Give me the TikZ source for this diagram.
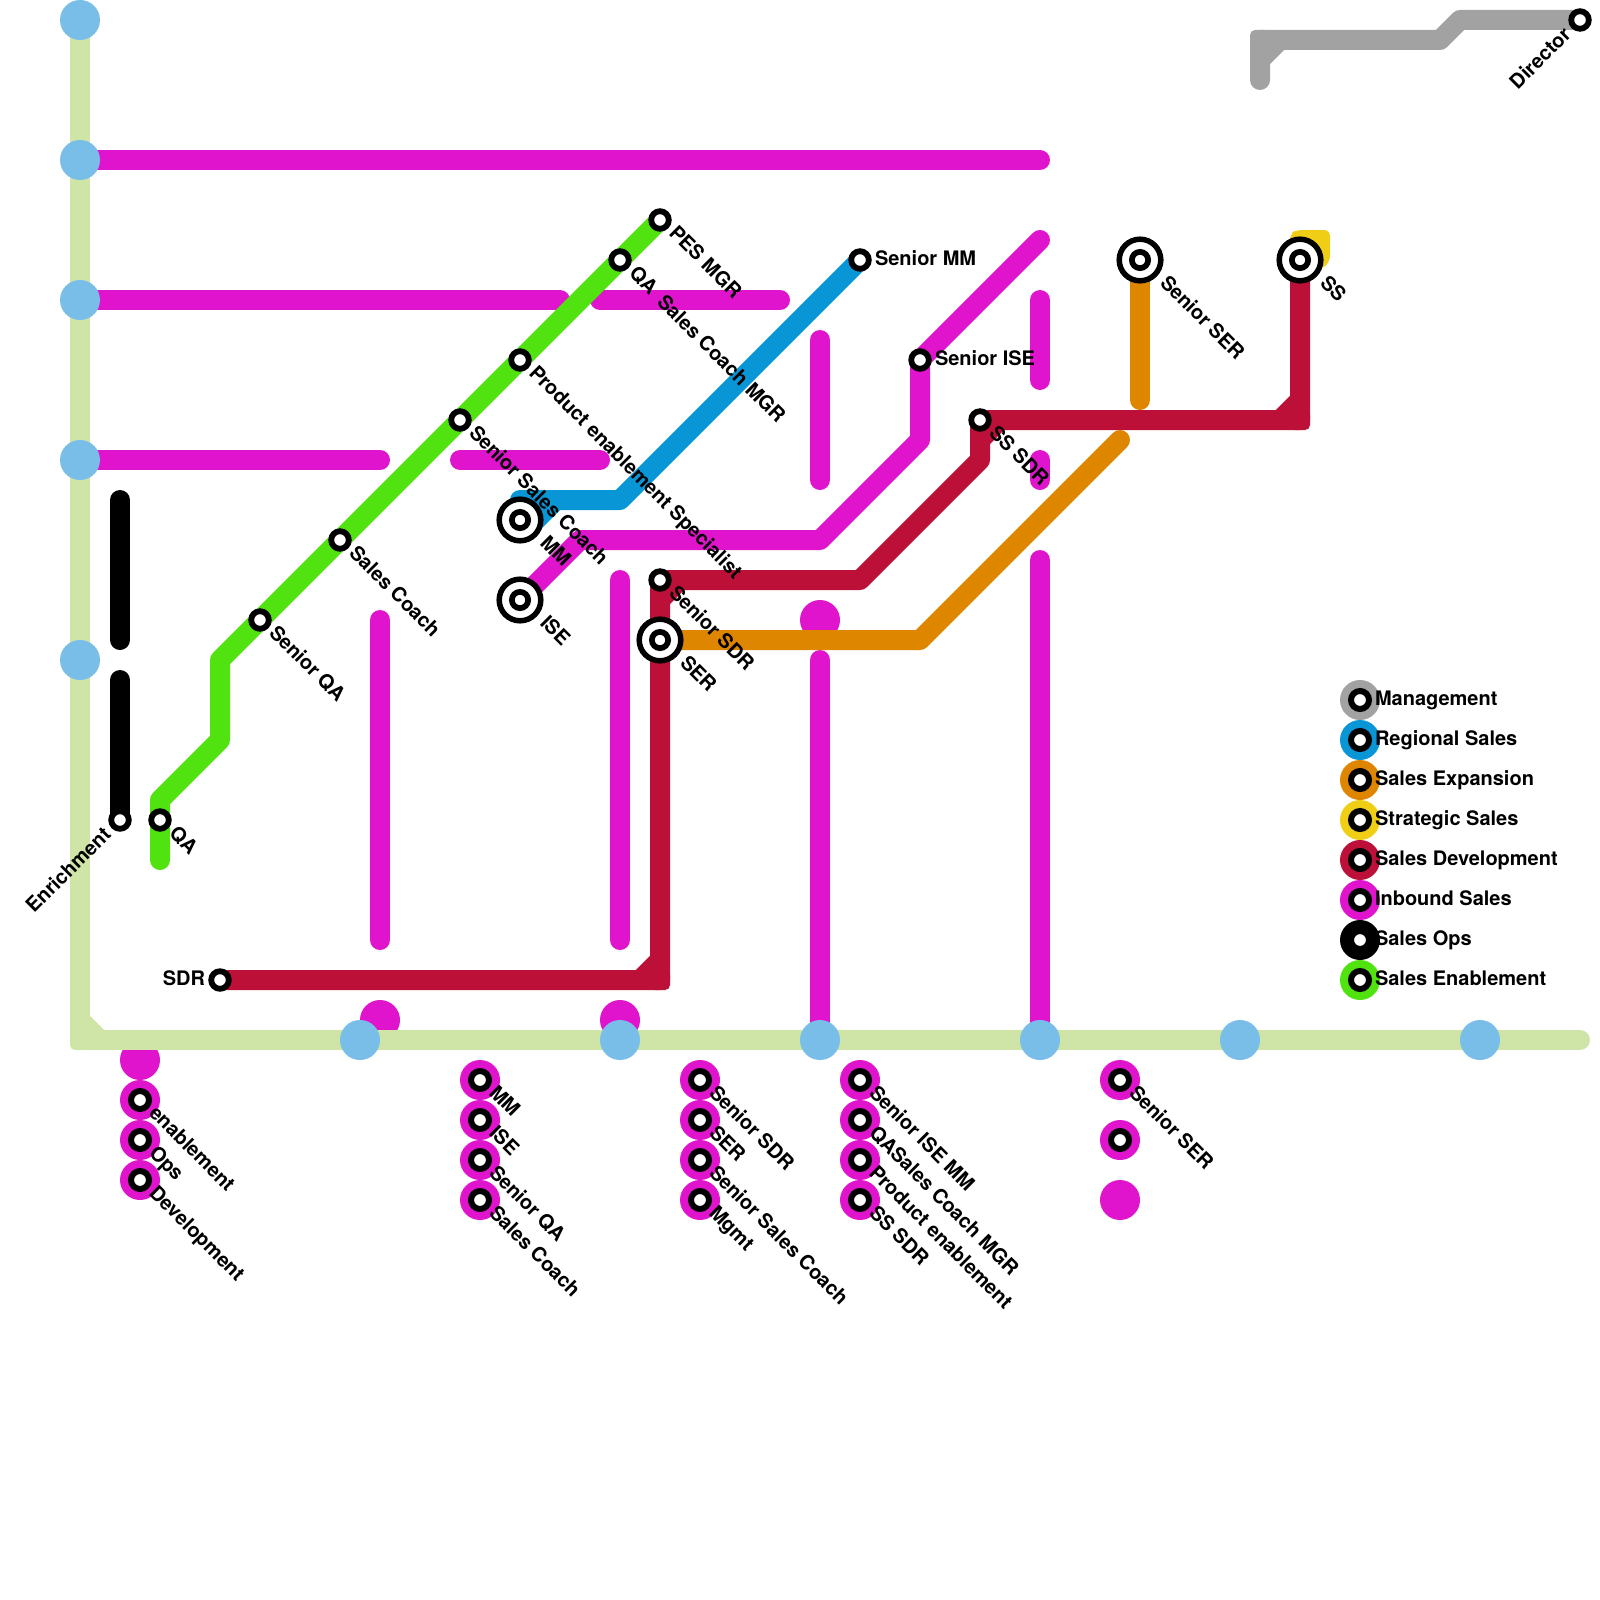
\documentclass[tikz,border=0pt]{standalone}
\usepackage{fontspec}
\setmainfont{TeX Gyre Heros}
\definecolor{cMag}{HTML}{E014CC}
\definecolor{cRed}{HTML}{BD1038}
\definecolor{cOra}{HTML}{DF8600}
\definecolor{cYel}{HTML}{F0CE15}
\definecolor{cBlu}{HTML}{0896D7}
\definecolor{cGra}{HTML}{A2A2A2}
\definecolor{cSky}{HTML}{79BDE9}
\definecolor{cLim}{HTML}{CFE4A7}
\definecolor{cGrn}{HTML}{50E30F}
\pgfdeclarelayer{lines}
\pgfsetlayers{lines,main}
\tikzset{
  x=1pt,y=-1pt,
  metro/.style={line width=20pt,line cap=round,line join=round},
  stn/.style={circle,draw=black,fill=white,line width=5.8pt,minimum size=17.6pt,inner sep=0pt,outer sep=0pt},
  stnkey/.style={circle,draw=black,fill=white,line width=6pt,minimum size=18pt,inner sep=0pt,outer sep=0pt},
  stnin/.style={circle,draw=black,fill=white,line width=5.7pt,minimum size=16.3pt,inner sep=0pt,outer sep=0pt},
  ring/.style={circle,draw=black,fill=white,line width=5.5pt,minimum size=41.6pt,inner sep=0pt,outer sep=0pt},
  hub/.style={circle,fill=cSky,minimum size=40pt,inner sep=0pt,outer sep=0pt},
  disc/.style={circle,fill=#1,minimum size=40pt,inner sep=0pt,outer sep=0pt},
  lbl/.style={font=\fontsize{20}{24}\selectfont\bfseries,text=black,inner sep=0pt,outer sep=0pt},
  dn/.style={lbl,anchor=base west,rotate=-45},
  up/.style={lbl,anchor=base east,rotate=45},
  rt/.style={lbl,anchor=base west},
}
% corner: small-radius outer corner of a right-angle bend
\newcommand{\crn}[2]{\fill[#1,rounded corners=5pt] ($(#2)+(-10,-10)$) rectangle ($(#2)+(10,10)$);}
\usetikzlibrary{calc}
\begin{document}
\begin{tikzpicture}
\useasboundingbox (0,0) rectangle (1600,1600);

% ---------- stations of the lines ----------
\node[stn] (pes) at (660,220) {};
\node[stn] (qa) at (620,260) {};
\node[stn] (prod) at (520,360) {};
\node[stn] (ssc) at (460,420) {};
\node[stn] (sc) at (340,540) {};
\node[stn] (sqa) at (260,620) {};
\node[stn] (qab) at (160,820) {};
\node[stn] (enr) at (120,820) {};
\node[stn] (sdr) at (220,980) {};
\node[stn] (ssdr) at (660,580) {};
\node[stn] (smm) at (860,260) {};
\node[stn] (sise) at (920,360) {};
\node[stn] (sssdr) at (980,420) {};
\node[stn] (dir) at (1580,20) {};
\foreach \n/\p in {mm/{520,520},ise/{520,600},ser/{660,640},sser/{1140,260},ss/{1300,260}}{
  \node[ring] (\n R) at (\p) {};
  \node[stnin] (\n) at (\p) {};
}

% ---------- bends and free ends ----------
\coordinate (limA) at (80,20);
\coordinate (limB) at (80,1040);
\coordinate (limC) at (1580,1040);
\coordinate (limD) at (80,1020);
\coordinate (limE) at (100,1040);

% ---------- lines ----------
\begin{pgfonlayer}{lines}
 % magenta discs and segments
 \foreach \p in {{820,620},{380,1020},{620,1020},{140,1060},{1120,1200}}{\node[disc=cMag] at (\p) {};}
 \draw[metro,cMag] (80,160) -- (1040,160);
 \draw[metro,cMag] (80,300) -- (560,300);
 \draw[metro,cMag] (600,300) -- (780,300);
 \draw[metro,cMag] (80,460) -- (380,460);
 \draw[metro,cMag] (460,460) -- (600,460);
 \draw[metro,cMag] (380,620) -- (380,940);
 \draw[metro,cMag] (620,580) -- (620,940);
 \draw[metro,cMag] (820,340) -- (820,480);
 \draw[metro,cMag] (820,660) -- (820,1040);
 \draw[metro,cMag] (1040,300) -- (1040,380);
 \draw[metro,cMag] (1040,460) -- (1040,480);
 \draw[metro,cMag] (1040,560) -- (1040,1040);
 \draw[metro,cMag] (ise.center) -- (580,540) -- (820,540) -- (920,440) -- (sise.center) -- (1040,240);
 % black
 \draw[metro,black] (120,500) -- (120,640);
 \draw[metro,black] (120,680) -- (enr.center);
 % green
 \draw[metro,cGrn] (160,860) -- (160,800) -- (220,740) -- (220,660) -- (sqa.center) -- (sc.center) -- (ssc.center) -- (prod.center) -- (qa.center) -- (pes.center);
 % blue
 \draw[metro,cBlu] (smm.center) -- (620,500) -- (520,500) -- (mm.center);
 \fill[cBlu] (525,505) -- (565,505) -- (540,530) -- (525,530) -- cycle;
 % yellow
 \fill[cYel,rounded corners=6pt] (1290,234) -- (1296,230) -- (1330,230) -- (1330,262) -- (1320,270) -- (1290,270) -- cycle;
 % red
 \draw[metro,cRed] (sdr.center) -- (660,980) -- (ssdr.center) -- (860,580) -- (980,460) -- (sssdr.center) -- (1300,420) -- (ss.center);
 \draw[metro,cRed,line cap=butt] (640,980) -- (660,960);
 \draw[metro,cRed,line cap=butt] (660,600) -- (680,580);
 \draw[metro,cRed,line cap=butt] (980,440) -- (1000,420);
 \draw[metro,cRed,line cap=butt] (1280,420) -- (1300,400);
 \crn{cRed}{660,980}
 \crn{cRed}{1300,420}
 % orange
 \draw[metro,cOra] (ser.center) -- (920,640) -- (1120,440);
 \draw[metro,cOra] (sser.center) -- (1140,400);
 % grey
 \draw[metro,cGra] (1260,80) -- (1260,40) -- (1440,40) -- (1460,20) -- (dir.center);
 \draw[metro,cGra,line cap=butt] (1260,60) -- (1280,40);
 \crn{cGra}{1260,40}
 % pale green
 \draw[metro,cLim] (limA) -- (limB) -- (limC);
 \draw[metro,cLim,line cap=butt] (limD) -- (limE);
 \crn{cLim}{limB}
 % hubs
 \foreach \p in {{80,20},{80,160},{80,300},{80,460},{80,660},{360,1040},{620,1040},{820,1040},{1040,1040},{1240,1040},{1480,1040}}{\node[hub] at (\p) {};}
\end{pgfonlayer}

% ---------- bottom stacks ----------
\foreach \n/\p in {
  a1/{140,1100},a2/{140,1140},a3/{140,1180},
  b1/{480,1080},b2/{480,1120},b3/{480,1160},b4/{480,1200},
  c1/{700,1080},c2/{700,1120},c3/{700,1160},c4/{700,1200},
  d1/{860,1080},d2/{860,1120},d3/{860,1160},d4/{860,1200},
  e1/{1120,1080},e2/{1120,1140}}{
  \node[disc=cMag] at (\p) {};
  \node[stnkey] (\n) at (\p) {};
}

% ---------- legend ----------
\foreach \n/\y/\c/\t in {
  l1/700/cGra/Management,l2/740/cBlu/Regional Sales,l3/780/cOra/Sales Expansion,l4/820/cYel/Strategic Sales,
  l5/860/cRed/Sales Development,l6/900/cMag/Inbound Sales,l7/940/black/Sales Ops,l8/980/cGrn/Sales Enablement}{
  \node[disc=\c] at (1360,\y) {};
  \node[stnkey] (\n) at (1360,\y) {};
  \node[rt] at ($(\n)+(15,5)$) {\t};
}

% ---------- labels ----------
\foreach \n/\t in {
  pes/PES MGR,qa/QA,prod/Product enablement Specialist,ssc/Senior Sales Coach,sc/Sales Coach,sqa/Senior QA,qab/QA,
  ssdr/Senior SDR,sssdr/SS SDR,
  a1/enablement,a2/Ops,a3/Development,
  b1/MM,b2/ISE,b3/Senior QA,b4/Sales Coach,
  c1/Senior SDR,c2/SER,c3/Senior Sales Coach,c4/Mgmt,
  d1/Senior ISE MM,d2/QASales Coach MGR,d3/Product enablement,d4/SS SDR,
  e1/Senior SER}{
  \node[dn] at ($(\n)+(8,14)$) {\t};
}
\foreach \n/\t in {mm/MM,ise/ISE,ser/SER,sser/Senior SER,ss/SS}{
  \node[dn] at ($(\n)+(19,24)$) {\t};
}
\node[dn] at ($(qa)+(36,43)$) {Sales Coach MGR};
\node[rt] at ($(smm)+(15,5)$) {Senior MM};
\node[rt] at ($(sise)+(15,5)$) {Senior ISE};
\node[lbl,anchor=base east] at ($(sdr)+(-15,5)$) {SDR};
\node[up] at ($(enr)+(-8,16)$) {Enrichment};
\node[up] at ($(dir)+(-8,16)$) {Director};
\end{tikzpicture}
\end{document}
